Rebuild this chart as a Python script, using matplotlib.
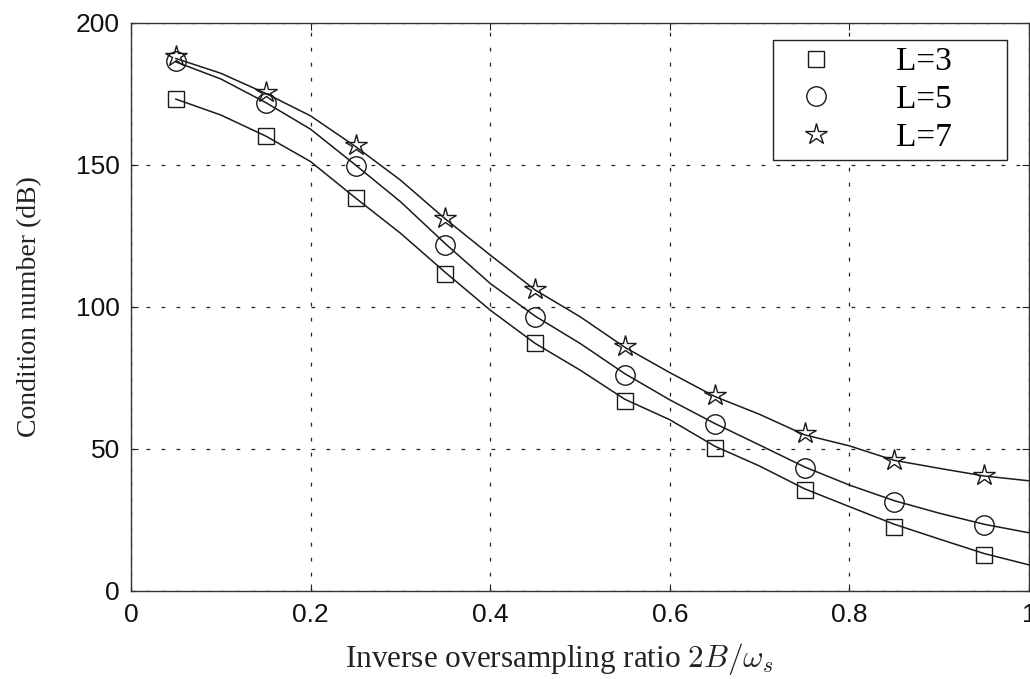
import matplotlib
matplotlib.use("Agg")
import matplotlib.pyplot as plt
from matplotlib.lines import Line2D

plt.rcParams["mathtext.fontset"] = "cm"

# ---- data ----
x_markers = [0.05, 0.15, 0.25, 0.35, 0.45, 0.55, 0.65, 0.75, 0.85, 0.95]
L3_markers = [173.2, 160.2, 138.4, 111.6, 87.2, 67.0, 50.5, 35.6, 22.6, 12.7]
L5_markers = [186.6, 171.9, 149.8, 121.8, 96.6, 76.1, 58.7, 43.2, 31.5, 23.2]
L7_markers = [188.5, 175.6, 157.0, 131.4, 106.4, 86.2, 69.0, 55.5, 46.3, 41.0]

x_curve = [0.05, 0.10, 0.15, 0.20, 0.25, 0.30, 0.35, 0.40, 0.45, 0.50,
           0.55, 0.60, 0.65, 0.70, 0.75, 0.80, 0.85, 0.90, 0.95, 1.00]
L3_curve = [173.2, 167.6, 160.2, 151.2, 138.4, 126.0, 112.2, 98.9, 87.2, 77.8,
            67.5, 60.3, 51.0, 44.0, 36.0, 29.7, 23.5, 18.3, 13.2, 9.2]
L5_curve = [186.3, 180.3, 172.0, 162.6, 150.0, 137.1, 122.3, 108.3, 96.8, 87.2,
            76.5, 67.3, 59.0, 51.4, 43.7, 37.3, 31.8, 27.4, 23.5, 20.5]
L7_curve = [187.5, 182.3, 175.2, 167.3, 156.5, 144.7, 131.0, 118.3, 106.0, 96.6,
            85.8, 76.9, 68.5, 62.2, 55.0, 51.1, 46.0, 43.2, 40.5, 38.8]

xticks = [0, 0.2, 0.4, 0.6, 0.8, 1]
xticklabels = ["0", "0.2", "0.4", "0.6", "0.8", "1"]
yticks = [0, 50, 100, 150, 200]
yticklabels = ["0", "50", "100", "150", "200"]
legend_labels = ["L=3", "L=5", "L=7"]

# ---- figure ----
fig = plt.figure(figsize=(10.30, 6.79), dpi=100)
ax = fig.add_axes([131/1030, 88/679, 898/1030, 568/679])

serif = ["Liberation Serif", "DejaVu Serif"]
sans = ["Liberation Sans", "DejaVu Sans"]

for yc in (L3_curve, L5_curve, L7_curve):
    ax.plot(x_curve, yc, color="#1a1a1a", lw=1.1, zorder=3)

mk_kw = dict(linestyle="none", mfc="none", mec="#1a1a1a", mew=1.0, zorder=4)
ax.plot(x_markers, L3_markers, marker="s", ms=11, **mk_kw)
ax.plot(x_markers, L5_markers, marker="o", ms=14, **mk_kw)
ax.plot(x_markers, L7_markers, marker="*", ms=16, **mk_kw)

ax.set_xlim(0, 1)
ax.set_ylim(0, 200)
ax.set_xticks(xticks)
ax.set_xticklabels(xticklabels, family=sans, fontsize=19)
ax.set_yticks(yticks)
ax.set_yticklabels(yticklabels, family=sans, fontsize=19)
ax.tick_params(direction="in", length=5, width=0.8, top=True, right=True,
               colors="#222222", labelcolor="#111111")
ax.tick_params(axis="y", pad=8)
ax.tick_params(axis="x", pad=9)

ax.grid(True, color="#222222", linestyle=(0, (3, 9)), linewidth=0.9)
ax.set_axisbelow(True)
for sp in ax.spines.values():
    sp.set_linewidth(1.0)
    sp.set_color("#333333")

ax.set_xlabel(r"Inverse oversampling ratio $2B/\omega_s$", family=serif,
              fontsize=22.5, color="#222222")
ax.xaxis.set_label_coords(0.4766, -0.088)
ax.set_ylabel("Condition number (dB)", family=serif, fontsize=20,
              color="#222222")
ax.yaxis.set_label_coords(-0.099, 0.5)

handles = [
    Line2D([], [], marker="s", ms=11, **mk_kw),
    Line2D([], [], marker="o", ms=14, **mk_kw),
    Line2D([], [], marker="*", ms=16, **mk_kw),
]
leg = ax.legend(handles, legend_labels, loc="upper left",
                bbox_to_anchor=(0.7149, 0.70, 0.2606, 0.270), mode="expand",
                prop={"family": serif, "size": 24},
                frameon=True, fancybox=False, edgecolor="#222222",
                handlelength=2.2, handletextpad=1.3, borderpad=0.2,
                labelspacing=0.22, borderaxespad=0, framealpha=1)
leg.get_frame().set_linewidth(1.0)
leg.set_zorder(5)

fig.savefig("out.png", dpi=100)
